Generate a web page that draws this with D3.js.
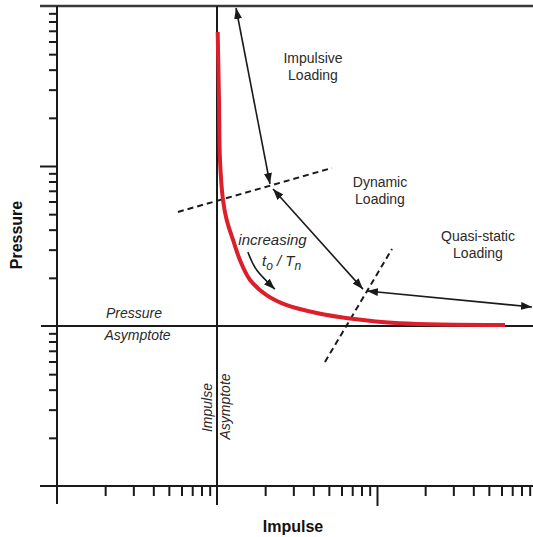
<!DOCTYPE html>
<html>
<head>
<meta charset="utf-8">
<script src="https://cdn.jsdelivr.net/npm/d3@7"></script>
<style>
  html, body { margin: 0; padding: 0; background: #fff; }
  svg { display: block; font-family: "Liberation Sans", Arial, sans-serif; }
</style>
</head>
<body>
<svg id="chart" width="533" height="537"></svg>
<script>
// ---- data (impulse, pressure in arbitrary log units) ----
const curveImpulse  = [10.1, 10.29, 10.44, 10.9, 11.5, 12.6, 13.9, 16.1, 20.4, 27.3, 42, 67.8, 139, 631];
const curvePressure = [688, 258, 109, 61.3, 46, 34.5, 25.9, 19.4, 15.6, 13.5, 12.06, 11.14, 10.4, 10.15];

// double-headed regime arrows: [impulse, pressure] start/end
const arrowStartImpulse  = [13.15, 22.4, 86.6];
const arrowStartPressure = [971.6, 71.8, 16.55];
const arrowEndImpulse    = [21.44, 81.7, 930.6];
const arrowEndPressure   = [77.2, 17.0, 13.15];

// dashed regime boundaries
const dashStartImpulse  = [5.70, 47.3];
const dashStartPressure = [51.6, 5.96];
const dashEndImpulse    = [52.3, 124.1];
const dashEndPressure   = [97.2, 30.3];

// small "increasing t0/Tn" arrow
const trendImpulse  = [15.6, 17.7, 23.0];
const trendPressure = [29.0, 22.4, 17.0];

// asymptotes
const impulseAsymptote = 10;
const pressureAsymptote = 10;

// tick values
const decades = [1, 10, 100];
const minorMult = [2, 3, 4, 5, 6, 7, 8, 9];
const minorTicks = decades.flatMap(d => minorMult.map(m => m * d));
const majorTicks = [1, 10, 100, 1000];

const regimeLabels = [
  { lines: ["Impulsive", "Loading"], x: 313, y: 63 },
  { lines: ["Dynamic", "Loading"], x: 380, y: 187 },
  { lines: ["Quasi-static", "Loading"], x: 478, y: 241 }
];

// ---- drawing ----
const W = 533, H = 537;
const svg = d3.select("#chart");
const x = d3.scaleLog().domain([1, 1000]).range([57, 537]);
const y = d3.scaleLog().domain([1, 1000]).range([486, 6]);
const ink = "#1a1a1a";

const defs = svg.append("defs");
defs.append("marker")
  .attr("id", "head").attr("markerUnits", "userSpaceOnUse")
  .attr("viewBox", "0 0 11 8").attr("refX", 11).attr("refY", 4)
  .attr("markerWidth", 11).attr("markerHeight", 8)
  .attr("orient", "auto-start-reverse")
  .append("path").attr("d", "M0,0 L11,4 L0,8 z").attr("fill", ink);

// left axis minor ticks
const yAxisMinor = d3.axisLeft(y).tickValues(minorTicks).tickSize(8).tickFormat("");
const gy = svg.append("g").attr("transform", `translate(${x(1)},0)`).call(yAxisMinor);
const yAxisMajor = d3.axisLeft(y).tickValues([100]).tickSize(17).tickFormat("");
const gy2 = svg.append("g").attr("transform", `translate(${x(1)},0)`).call(yAxisMajor);
// bottom axis ticks
const xAxisMinor = d3.axisBottom(x).tickValues(minorTicks).tickSize(10).tickFormat("");
const gx = svg.append("g").attr("transform", `translate(0,${y(1)})`).call(xAxisMinor);
const xAxisMajor = d3.axisBottom(x).tickValues([100]).tickSize(20).tickFormat("");
const gx2 = svg.append("g").attr("transform", `translate(0,${y(1)})`).call(xAxisMajor);
[gy, gy2, gx, gx2].forEach(g => {
  g.select(".domain").remove();
  g.selectAll(".tick line").attr("stroke", ink).attr("stroke-width", 2);
});

// frame lines
const lines = svg.append("g").attr("stroke", ink).attr("stroke-width", 2);
lines.append("line").attr("x1", 40).attr("x2", W).attr("y1", y(1000)).attr("y2", y(1000)).attr("stroke", "#3a3a3a").attr("stroke-width", 2.5);
lines.append("line").attr("x1", 40).attr("x2", W).attr("y1", y(1)).attr("y2", y(1));
lines.append("line").attr("x1", x(1)).attr("x2", x(1)).attr("y1", y(1000)).attr("y2", y(1) + 18);
// asymptotes
lines.append("line").attr("x1", 41).attr("x2", W).attr("y1", y(pressureAsymptote)).attr("y2", y(pressureAsymptote));
lines.append("line").attr("x1", x(impulseAsymptote)).attr("x2", x(impulseAsymptote)).attr("y1", y(1000)).attr("y2", y(1) + 19);

// dashed boundaries
dashStartImpulse.forEach((d, i) => {
  svg.append("line")
    .attr("x1", x(d)).attr("y1", y(dashStartPressure[i]))
    .attr("x2", x(dashEndImpulse[i])).attr("y2", y(dashEndPressure[i]))
    .attr("stroke", ink).attr("stroke-width", 2).attr("stroke-dasharray", "6,4");
});

// red P-I curve
const pts = curveImpulse.map((d, i) => [d, curvePressure[i]]);
svg.append("path")
  .attr("d", d3.line().x(d => x(d[0])).y(d => y(d[1])).curve(d3.curveCatmullRom.alpha(0.5))(pts))
  .attr("fill", "none").attr("stroke", "#dc1f2b").attr("stroke-width", 4)
  .attr("stroke-linecap", "butt");

// regime arrows
arrowStartImpulse.forEach((d, i) => {
  svg.append("line")
    .attr("x1", x(d)).attr("y1", y(arrowStartPressure[i]))
    .attr("x2", x(arrowEndImpulse[i])).attr("y2", y(arrowEndPressure[i]))
    .attr("stroke", ink).attr("stroke-width", 1.6)
    .attr("marker-start", "url(#head)").attr("marker-end", "url(#head)");
});

// trend arrow
const tp = trendImpulse.map((d, i) => [d, trendPressure[i]]);
svg.append("path")
  .attr("d", d3.line().x(d => x(d[0])).y(d => y(d[1])).curve(d3.curveNatural)(tp))
  .attr("fill", "none").attr("stroke", ink).attr("stroke-width", 1.6)
  .attr("marker-end", "url(#head)");

// regime labels
regimeLabels.forEach(l => {
  const t = svg.append("text").attr("text-anchor", "middle").attr("font-size", 14).attr("fill", "#2a2a2a");
  l.lines.forEach((s, k) => t.append("tspan").attr("x", l.x).attr("y", l.y + k * 17).text(s));
});

// italic annotations
const ital = svg.append("g").attr("font-style", "italic").attr("font-size", 14).attr("fill", "#2a2a2a");
ital.append("text").attr("x", 106).attr("y", 318).text("Pressure");
ital.append("text").attr("x", 104.5).attr("y", 340).text("Asymptote");
ital.append("text").attr("transform", "translate(206.5,407.5) rotate(-90)")
  .attr("text-anchor", "middle").attr("dominant-baseline", "central").text("Impulse");
ital.append("text").attr("transform", "translate(225,406.5) rotate(-90)")
  .attr("text-anchor", "middle").attr("dominant-baseline", "central").text("Asymptote");
ital.append("text").attr("x", 272.5).attr("y", 245).attr("text-anchor", "middle").attr("font-size", 15).text("increasing");
const tt = ital.append("text").attr("x", 262).attr("y", 266).attr("font-size", 15);
tt.append("tspan").text("t");
tt.append("tspan").attr("dy", 4).attr("font-size", 12).text("o");
tt.append("tspan").attr("dy", -4).text(" / T");
tt.append("tspan").attr("dy", 4).attr("font-size", 12).text("n");

// axis titles
svg.append("text").attr("transform", "translate(16,235) rotate(-90)")
  .attr("text-anchor", "middle").attr("dominant-baseline", "central")
  .attr("font-weight", "bold").attr("font-size", 16).attr("fill", "#111").text("Pressure");
svg.append("text").attr("x", 293).attr("y", 532)
  .attr("text-anchor", "middle")
  .attr("font-weight", "bold").attr("font-size", 16).attr("fill", "#111").text("Impulse");
</script>
</body>
</html>
